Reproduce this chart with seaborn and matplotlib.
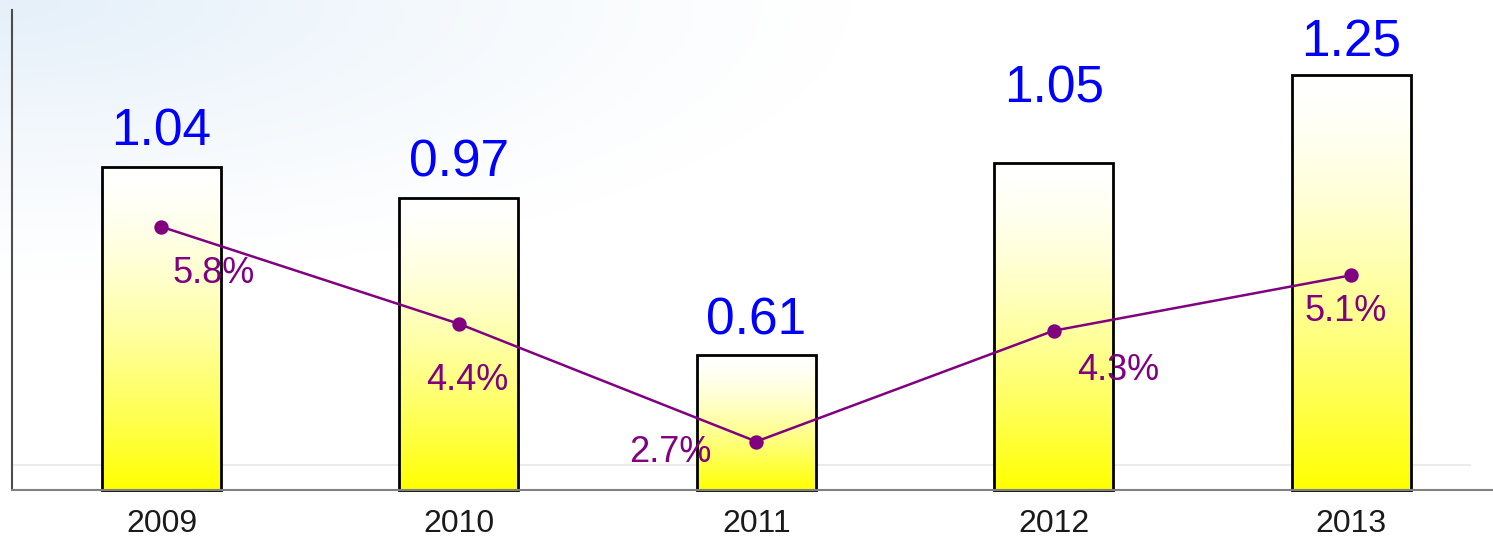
import numpy as np
import pandas as pd
import seaborn as sns
from matplotlib import pyplot as plt

years = ["2009", "2010", "2011", "2012", "2013"]
values = [1.04, 0.97, 0.61, 1.05, 1.25]
growth = [5.8, 4.4, 2.7, 4.3, 5.1]
growth_labels = ["5.8%", "4.4%", "2.7%", "4.3%", "5.1%"]

# label placement (pixels) - the source chart is not regular about this
value_gap = [11, 10, 9, 49, 8]
growth_offsets = [(52, -47), (8, -57), (-86, -11), (64, -40), (-6, -36)]

PURPLE = "#800080"
BLUE = "#0000FF"
W, H = 1493, 542


def background(fig):
    bg = fig.add_axes([0, 0, 1, 1], zorder=-10)
    yy, xx = np.mgrid[0:H, 0:W]
    w = np.clip(1 - np.sqrt((xx / 850.0) ** 2 + (yy / 280.0) ** 2), 0, 1) ** 1.2
    tint = np.array([0.895, 0.94, 0.978])
    img = (1 - w[..., None]) + w[..., None] * tint
    bg.imshow(img, extent=[0, W, H, 0], aspect="auto")
    bg.plot([12, 1470], [465, 465], color="#ebebeb", lw=1.5)
    bg.set_xlim(0, W)
    bg.set_ylim(H, 0)
    bg.axis("off")


def gradient_bars(ax, ylow):
    grad = np.linspace(0, 1, 256) ** 1.5
    img = np.ones((256, 1, 3))
    img[:, 0, 2] = 1 - grad
    for p in ax.patches:
        top = p.get_y() + p.get_height()
        p.set_y(ylow)
        p.set_height(top - ylow)
        x0 = p.get_x()
        im = ax.imshow(img, extent=[x0, x0 + p.get_width(), ylow, top],
                       origin="upper", aspect="auto", zorder=1.5)
        im.set_clip_path(p)
        p.set_facecolor("none")
        p.set_edgecolor("black")
        p.set_linewidth(2)
        p.set_zorder(2)
        p.set_clip_on(False)


def main():
    df = pd.DataFrame({"year": years, "value": values, "growth": growth})

    sns.set_style("white")
    plt.rcParams["font.family"] = ["Liberation Sans", "DejaVu Sans"]

    fig = plt.figure(figsize=(W / 100, H / 100), dpi=100)
    background(fig)

    ax = fig.add_axes([12 / W, 52 / H, 1 - 12 / W, 480 / H])
    ax.set_facecolor("none")
    sns.barplot(df, x="year", y="value", width=0.4, ax=ax, color="white")
    ylow, yhigh = 0.3, 1.4
    ax.set_ylim(ylow, yhigh)
    gradient_bars(ax, ylow)
    ax.set_xlim(-0.5025, 4.477)
    ax.set_ylim(ylow, yhigh)

    for i, v in enumerate(values):
        ax.annotate(f"{v:.2f}", (i, v), xytext=(0, value_gap[i]), textcoords="offset pixels",
                    ha="center", va="bottom", color=BLUE, fontsize=37)

    ax.set_xlabel("")
    ax.set_ylabel("")
    ax.set_yticks([])
    ax.tick_params(axis="x", length=0, pad=14, labelsize=23, labelcolor="#1a1a1a")
    for s in ["top", "right"]:
        ax.spines[s].set_visible(False)
    ax.spines["left"].set_color("#4d4d4d")
    ax.spines["left"].set_linewidth(1.5)
    ax.spines["bottom"].set_color("#808080")
    ax.spines["bottom"].set_linewidth(1.5)

    ax2 = ax.twinx()
    sns.pointplot(df, x="year", y="growth", ax=ax2, color=PURPLE, markers="o",
                  linewidth=1.8, markersize=9)
    ax2.set_ylim(2.0, 8.93)
    ax2.set_xlim(-0.5025, 4.477)
    for i, g in enumerate(growth):
        dx, dy = growth_offsets[i]
        ax2.annotate(growth_labels[i], (i, g), xytext=(dx, dy), textcoords="offset pixels",
                     ha="center", va="center", color=PURPLE, fontsize=26)
    ax2.set_ylabel("")
    ax2.set_yticks([])
    for s in ax2.spines.values():
        s.set_visible(False)

    fig.savefig("out.png", dpi=100)


if __name__ == '__main__':
    main()
